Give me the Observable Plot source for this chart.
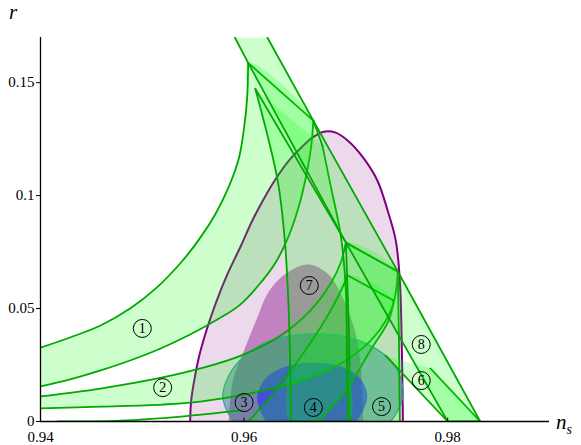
<!DOCTYPE html>
<html><head><meta charset="utf-8">
<script src="https://cdn.jsdelivr.net/npm/d3@7"></script>
<script src="https://cdn.jsdelivr.net/npm/@observablehq/plot@0.6"></script>
<style>
body{margin:0;background:#fff}
#c{position:relative;width:581px;height:445px;font-family:"Liberation Serif",serif}
.lab{position:absolute;font-style:italic;font-size:21px;color:#000}
</style>
</head><body><div id="c"></div>
<script>
// axis ticks
const xTicks = [0.94, 0.96, 0.98];
const xTickLabels = ["0.94", "0.96", "0.98"];
const yTicks = [0, 0.05, 0.1, 0.15];
const yTickLabels = ["0", "0.05", "0.1", "0.15"];

// Planck contours (ns, r)
const purpleOuter = [[0.9547,0],[0.9548,0.0093],[0.9551,0.0181],[0.9556,0.0292],[0.9563,0.0403],[0.9572,0.0522],[0.9583,0.0646],[0.9597,0.0779],[0.9608,0.0889],[0.9620,0.0991],[0.9632,0.1080],[0.9644,0.1155],[0.9656,0.1212],[0.9667,0.1257],[0.9678,0.1283],[0.9690,0.1279],[0.9702,0.1243],[0.9717,0.1168],[0.9731,0.1066],[0.9741,0.0934],[0.9749,0.0801],[0.9753,0.0624],[0.9755,0.0314],[0.9756,0]];
const purpleInner = [[0.9585,0],[0.9589,0.0181],[0.9601,0.0327],[0.9613,0.0460],[0.9623,0.0566],[0.9641,0.0655],[0.9663,0.0695],[0.9682,0.0655],[0.9695,0.0566],[0.9708,0.0416],[0.9714,0.0270],[0.9717,0]];
const tealOuter = [[0.9589,0],[0.9581,0.0071],[0.9579,0.0115],[0.9585,0.0204],[0.9601,0.0292],[0.9626,0.0358],[0.9656,0.0385],[0.9675,0.0389],[0.9700,0.0376],[0.9724,0.0336],[0.9744,0.0270],[0.9754,0.0190],[0.9756,0.0115],[0.9750,0.0040],[0.9744,0]];
const blueInner = [[0.9621,0],[0.9614,0.0071],[0.9613,0.0115],[0.9621,0.0190],[0.9641,0.0243],[0.9668,0.0261],[0.9695,0.0243],[0.9714,0.0190],[0.9721,0.0115],[0.9717,0.0049],[0.9710,0]];

// model 1
const m1N50 = [[0.9400,0.0327],[0.9429,0.0372],[0.9459,0.0425],[0.9488,0.0500],[0.9513,0.0588],[0.9538,0.0704],[0.9557,0.0814],[0.9572,0.0920],[0.9585,0.1040],[0.9595,0.1168],[0.9600,0.1301],[0.9603,0.1434],[0.9604,0.1588]];
const m1N60 = [[0.9668,0.1332],[0.9666,0.1221],[0.9661,0.1088],[0.9654,0.0956],[0.9644,0.0823],[0.9631,0.0704],[0.9614,0.0602],[0.9595,0.0513],[0.9572,0.0447],[0.9547,0.0385],[0.9518,0.0323],[0.9488,0.0270],[0.9459,0.0226],[0.9429,0.0186],[0.9400,0.0155]];
// model 2
const m2N50 = [[0.9400,0.0111],[0.9459,0.0146],[0.9520,0.0195],[0.9557,0.0235],[0.9597,0.0292],[0.9636,0.0381],[0.9665,0.0491],[0.9685,0.0611],[0.9695,0.0704],[0.9700,0.0792]];
const m2N60 = [[0.9751,0.0664],[0.9746,0.0513],[0.9729,0.0381],[0.9700,0.0270],[0.9656,0.0181],[0.9606,0.0124],[0.9557,0.0088],[0.9520,0.0075],[0.9459,0.0066],[0.9400,0.0058]];
// model 3 (curve hugging the axis)
const m3N50 = [[0.9417,0],[0.9479,0.0004],[0.9538,0.0022],[0.9597,0.0049]];
// model 4
const m4N60 = [[0.9672,0],[0.9700,0.0137],[0.9724,0.0314],[0.9742,0.0447],[0.9747,0.0535]];
const m4N50 = [[0.9702,0.0646],[0.9685,0.0491],[0.9660,0.0314],[0.9631,0.0137],[0.9604,0]];
// model 5
const m5N50 = [[0.9704,0],[0.9703,0.0400],[0.9700,0.0792]];
const m5N60 = [[0.9751,0.0664],[0.9752,0.0400],[0.9753,0]];
// model 6
const m6N50 = [[0.9739,0.0292],[0.9800,0]];
const m6N60 = [[0.9832,0],[0.9783,0.0235]];
// model 7
const m7N50 = [[0.9611,0.1473],[0.9633,0.1066],[0.9640,0.0801],[0.9643,0.0580],[0.9645,0.0314],[0.9646,0]];
const m7N60 = [[0.9702,0],[0.9701,0.0314],[0.9700,0.0580],[0.9695,0.0823],[0.9685,0.1044],[0.9677,0.1221]];
const m7Extra = [[0.9611,0.1473],[0.9700,0.0792]];
const m7Link = [[0.9668,0.1332],[0.9677,0.1221]];
// model 8
const m8N50 = [[0.9591,0.1699],[0.9604,0.1588],[0.9700,0.0792],[0.9800,0]];
const m8N60 = [[0.9832,0],[0.9751,0.0664],[0.9668,0.1332],[0.9623,0.1699]];

// labels
const labelNs = [0.9500, 0.9520, 0.9600, 0.9668, 0.9735, 0.9774, 0.9664, 0.9774];
const labelR  = [0.0412, 0.0150, 0.0084, 0.0062, 0.0066, 0.0181, 0.0602, 0.0341];
const labelText = ["1","2","3","4","5","6","7","8"];

const GF = "#00ff00", GS = "#00a800";
const X = d => d[0], Y = d => d[1];
function fillShape(pts, fill, op, curve = "catmull-rom") { return Plot.line(pts, {x: X, y: Y, curve, fill, fillOpacity: op, stroke: "none", clip: true}); }
function edge(pts, stroke, w, curve = "catmull-rom") { return Plot.line(pts, {x: X, y: Y, curve, stroke, strokeWidth: w, clip: true}); }
function band(a, b, curve = "catmull-rom", closeTop = true) {
  const m = [fillShape([...a, ...b], GF, 0.2, curve), edge(a, GS, 1.8, curve), edge(b, GS, 1.8, curve)];
  if (closeTop) m.push(edge([a[a.length-1], b[0]], GS, 1.8, "linear"));
  return m;
}
const labels = labelText.map((t, i) => ({ns: labelNs[i], r: labelR[i], t}));

const chart = Plot.plot({
  width: 581, height: 445,
  marginLeft: 40, marginRight: 32, marginTop: 37, marginBottom: 24,
  x: {domain: [0.94, 0.99]},
  y: {domain: [0, 0.17]},
  style: {fontFamily: "Liberation Serif, serif", fontSize: "15px", background: "#fff"},
  marks: [
    fillShape(purpleOuter, "#800080", 0.15),
    fillShape(purpleInner, "#800080", 0.4),
    edge(purpleOuter, "#800080", 2),
    fillShape(tealOuter, "#1a7f86", 0.45),
    edge(tealOuter, "#3f9a9a", 1.2),
    fillShape(blueInner, "#2a2aff", 0.6),
    ...band(m1N50, m1N60),
    ...band(m2N50, m2N60),
    ...band(m4N60, m4N50),
    ...band(m5N50, m5N60, "linear"),
    ...band(m6N50, m6N60, "linear"),
    ...band(m7N50, m7N60),
    ...band(m8N50, m8N60, "linear", false),
    edge(m7Extra, GS, 1.8, "linear"),
    edge(m7Link, GS, 1.8, "linear"),
    edge(m3N50, GS, 1.8),
    Plot.ruleY([0], {stroke: "#000", strokeWidth: 1.3}),
    Plot.ruleX([0.94], {stroke: "#000", strokeWidth: 1.3}),
    Plot.ruleX(xTicks.slice(1), {y1: 0, y2: 0.0015, stroke: "#000"}),
    Plot.axisY({ticks: yTicks, tickFormat: (d, i) => yTickLabels[i], tickSize: 4, tickPadding: 2, label: null}),
    Plot.axisX({ticks: xTicks, tickFormat: (d, i) => xTickLabels[i], tickSize: 0, tickPadding: 10, label: null}),
    Plot.dot(labels, {x: "ns", y: "r", r: 9, stroke: "#000", strokeWidth: 1, fill: "none"}),
    Plot.text(labels, {x: "ns", y: "r", text: "t", fontSize: 14, fill: "#000"})
  ]
});
const c = document.getElementById("c");
c.appendChild(chart);
const rl = document.createElement("div"); rl.className = "lab"; rl.style.left = "9px"; rl.style.top = "0px"; rl.textContent = "r"; c.appendChild(rl);
const nl = document.createElement("div"); nl.className = "lab"; nl.style.left = "556px"; nl.style.top = "410px"; nl.innerHTML = "n<sub style='font-size:14px'>s</sub>"; c.appendChild(nl);
</script></body></html>
